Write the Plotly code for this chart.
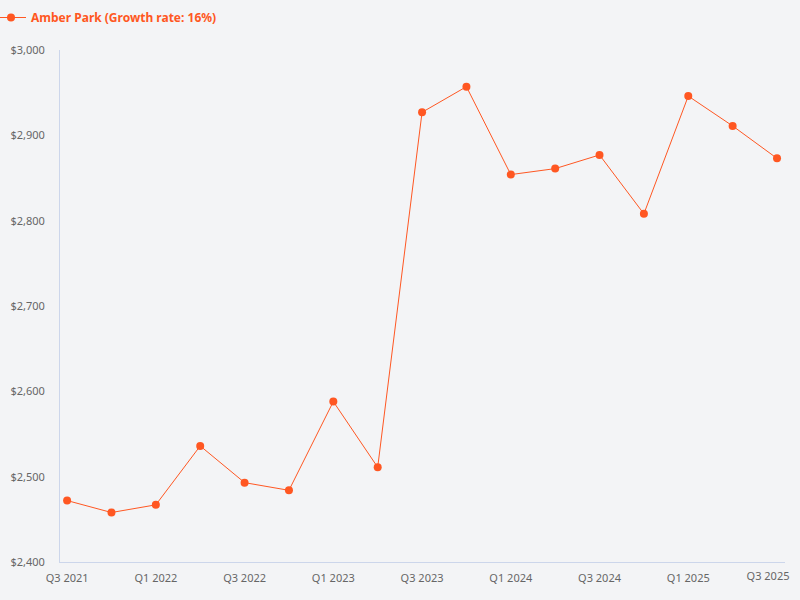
import plotly.graph_objects as go

quarters = ["Q3 2021", "Q4 2021", "Q1 2022", "Q2 2022", "Q3 2022", "Q4 2022",
            "Q1 2023", "Q2 2023", "Q3 2023", "Q4 2023", "Q1 2024", "Q2 2024",
            "Q3 2024", "Q4 2024", "Q1 2025", "Q2 2025", "Q3 2025"]
rent = [2472, 2458, 2467, 2536, 2493, 2484,
        2588, 2511, 2927, 2957, 2854, 2861,
        2877, 2808, 2946, 2911, 2873]
series_name = "Amber Park (Growth rate: 16%)"
x_tick_labels = quarters[::2]
y_ticks = [2400, 2500, 2600, 2700, 2800, 2900, 3000]
y_tick_text = ["${:,}".format(v) for v in y_ticks]

color = "#ff5722"
bg = "#f3f4f6"
x_range = [-0.16, len(quarters) - 1 + 0.18]

fig = go.Figure()
fig.add_trace(go.Scatter(
    x=quarters, y=rent, mode="lines+markers", name=series_name,
    line=dict(color=color, width=1),
    marker=dict(color=color, size=8),
))
# invisible helper so the overlay axis (last tick label) gets drawn
fig.add_trace(go.Scatter(
    x=[len(quarters) - 1], y=[rent[-1]], xaxis="x2", mode="markers",
    marker=dict(opacity=0), showlegend=False, hoverinfo="skip",
))

tick_font = dict(size=11, color="#666666")

fig.update_layout(
    width=800, height=600,
    paper_bgcolor=bg, plot_bgcolor=bg,
    margin=dict(l=60, r=15, t=50, b=38, autoexpand=False),
    font=dict(family="Noto Sans, Open Sans, sans-serif", color="#666666", size=11),
    showlegend=True,
    legend=dict(
        xref="container", yref="container", x=0, y=0.995,
        xanchor="left", yanchor="top", orientation="h",
        font=dict(color=color, size=12, weight="bold"),
        itemwidth=30, indentation=-9, bgcolor="rgba(0,0,0,0)",
    ),
    xaxis=dict(
        type="category", range=x_range, automargin=False,
        tickmode="array", tickvals=x_tick_labels[:-1], ticktext=x_tick_labels[:-1],
        showgrid=False, zeroline=False,
        showline=True, linecolor="#ccd6eb", linewidth=1,
        ticks="", ticklabelstandoff=6, tickfont=tick_font,
    ),
    # last category label, nudged left to stay inside the canvas
    xaxis2=dict(
        overlaying="x", anchor="y", side="bottom", type="linear",
        range=x_range, automargin=False,
        tickmode="array", tickvals=[len(quarters) - 1], ticktext=[x_tick_labels[-1]],
        ticklabelshift=-9,
        showgrid=False, zeroline=False, showline=False,
        ticks="", ticklabelstandoff=6, tickfont=tick_font,
    ),
    yaxis=dict(
        range=[2400, 3000], tickmode="array", tickvals=y_ticks, ticktext=y_tick_text,
        automargin=False,
        showgrid=False, zeroline=False,
        showline=True, linecolor="#ccd6eb", linewidth=1,
        ticks="", ticklabelstandoff=12, tickfont=tick_font,
    ),
)

fig.write_html("out.html", config={"displayModeBar": False},
               post_script="document.body.style.margin='0';")
